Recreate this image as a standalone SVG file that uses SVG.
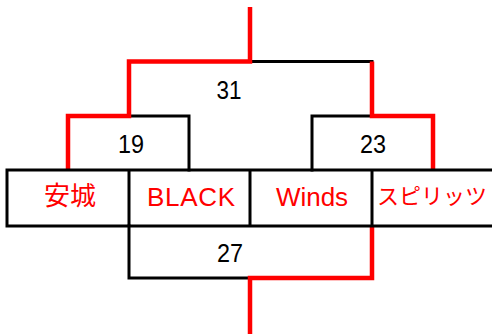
<svg xmlns="http://www.w3.org/2000/svg" width="492" height="334" viewBox="0 0 492 334">
<style>
.blk{fill:none;stroke:#000;stroke-width:3;stroke-linecap:square}
.red{fill:none;stroke:#ff0000;stroke-width:4.5;stroke-linejoin:miter}
.num{font-family:"Liberation Sans","Noto Sans CJK JP",sans-serif;font-size:26px;fill:#000;text-anchor:middle}
.team{font-family:"Liberation Sans","Noto Sans CJK JP",sans-serif;font-size:26px;fill:#ff0000;text-anchor:middle}
.jp{font-family:"Noto Sans CJK JP",sans-serif;fill:#ff0000;text-anchor:middle}
</style>
<rect width="492" height="334" fill="#fff"/>
<g id="connectors">
<path class="blk" d="M250,61.5 H372"/>
<path class="blk" d="M129,116 H189 V170"/>
<path class="blk" d="M312,170 V116 H372"/>
<path class="blk" d="M129,226 V278 H250"/>
<path class="red" d="M250,7 V61.5 H129 V116 H68 V170"/>
<path class="red" d="M372,61.5 V116 H433 V170"/>
<path class="red" d="M372,226 V278 H250 V334"/>
</g>
<g id="table">
<path class="blk" d="M7,170 H492 M7,226 H492 M7,170 V226 M129,170 V226 M250,170 V226 M372,170 V226"/>
</g>
<g id="node-anjo"><text class="jp" x="70" y="205" font-size="26">安城</text></g>
<g id="node-black"><text class="team" x="191" y="206" textLength="88" lengthAdjust="spacing">BLACK</text></g>
<g id="node-winds"><text class="team" x="312" y="206">Winds</text></g>
<g id="node-spirits"><text class="jp" x="432" y="204" font-size="22">スピリッツ</text></g>
<g id="score-31"><text class="num" x="229" y="99" textLength="25" lengthAdjust="spacingAndGlyphs">31</text></g>
<g id="score-19"><text class="num" x="131" y="153" textLength="26" lengthAdjust="spacingAndGlyphs">19</text></g>
<g id="score-23"><text class="num" x="373" y="153" textLength="26" lengthAdjust="spacingAndGlyphs">23</text></g>
<g id="score-27"><text class="num" x="230" y="262" textLength="26" lengthAdjust="spacingAndGlyphs">27</text></g>
</svg>
